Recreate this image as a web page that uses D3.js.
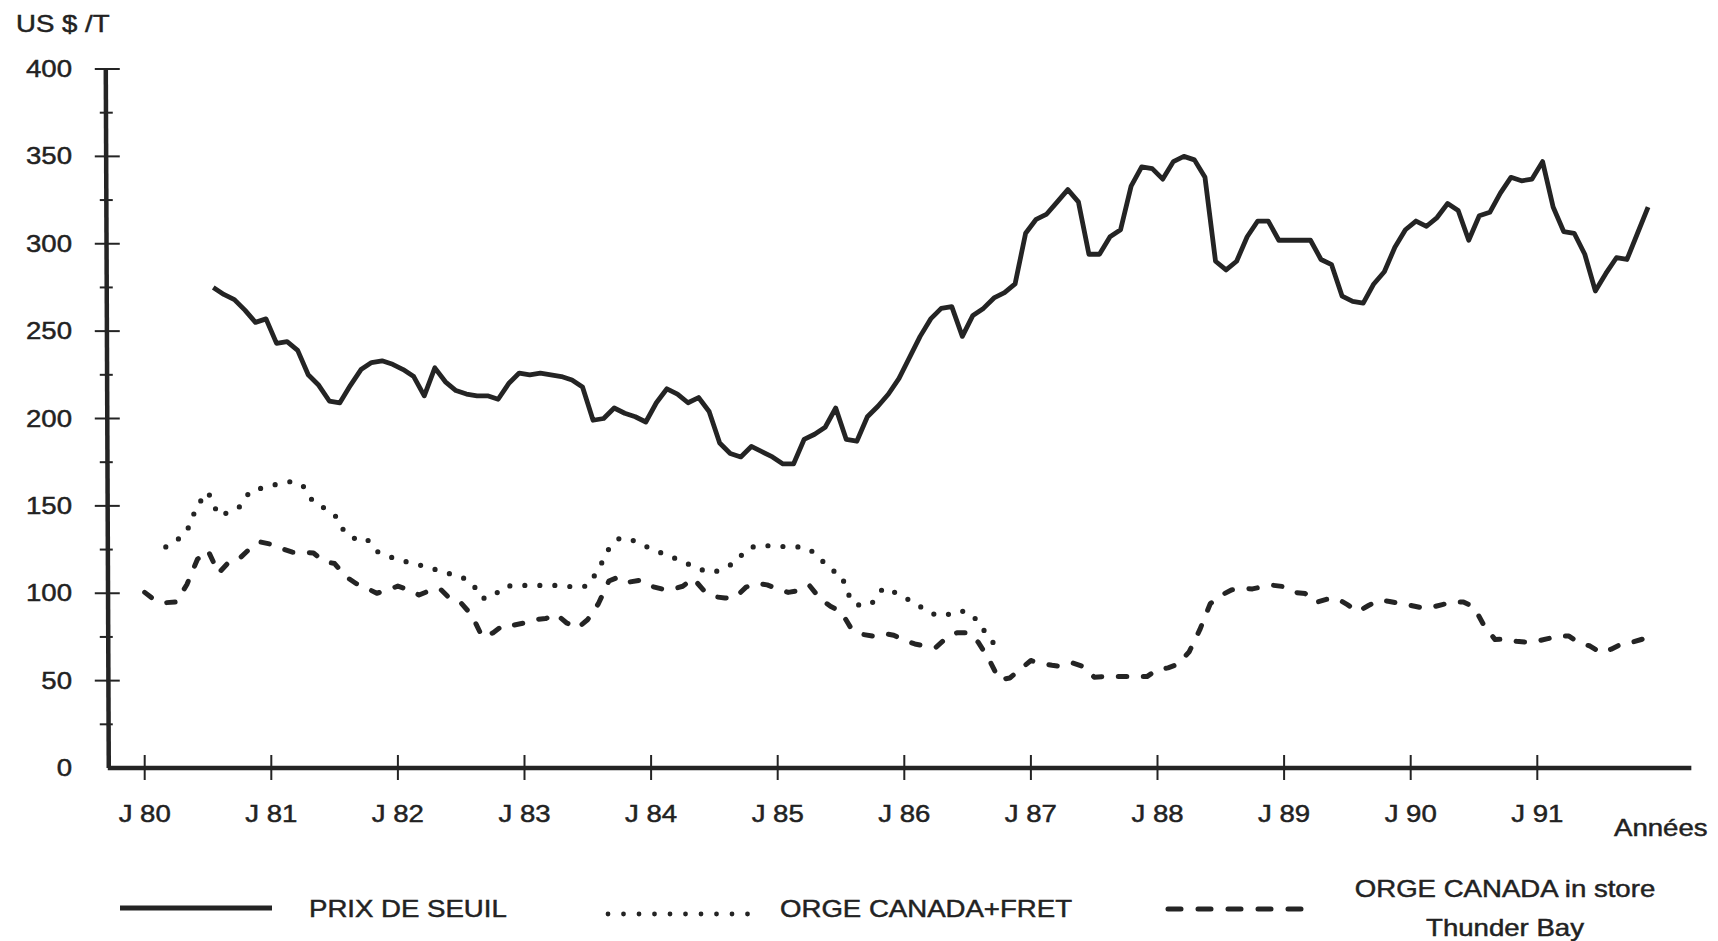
<!DOCTYPE html>
<html>
<head>
<meta charset="utf-8">
<script src="https://cdn.jsdelivr.net/npm/d3@7"></script>
<style>
  html, body { margin: 0; padding: 0; background: #fff; }
  svg { display: block; }
  text { font-family: "Liberation Sans", Arial, Helvetica, sans-serif; fill: #222; stroke: #222; stroke-width: 0.45px; }
</style>
</head>
<body>
<svg id="chart" width="1718" height="941"></svg>
<script>
// ---- Data (US $ per tonne, monthly; month index 0 = January 1980) ----
const yearLabels = ["J 80", "J 81", "J 82", "J 83", "J 84", "J 85", "J 86", "J 87", "J 88", "J 89", "J 90", "J 91"];
const yTickValues = [0, 50, 100, 150, 200, 250, 300, 350, 400];
const yMinorValues = [25, 75, 125, 175, 225, 275, 325, 375];

// Prix de seuil, July 1980 to November 1991 (mid-month)
const prixSeuilStart = 6.5;
const prixSeuil = [
  275, 271, 268, 262, 255, 257,
  243, 244, 239, 225, 219, 210, 209, 219, 228, 232, 233, 231,
  228, 224, 213, 229, 221, 216, 214, 213, 213, 211, 220, 226,
  225, 226, 225, 224, 222, 218, 199, 200, 206, 203, 201, 198,
  209, 217, 214, 209, 212, 204, 186, 180, 178, 184, 181, 178,
  174, 174, 188, 191, 195, 206, 188, 187, 201, 207, 214, 223,
  235, 247, 257, 263, 264, 247, 259, 263, 269, 272, 277, 306,
  314, 317, 324, 331, 324, 294, 294, 304, 308, 333, 344, 343,
  337, 347, 350, 348, 338, 290, 285, 290, 304, 313, 313, 302,
  302, 302, 302, 291, 288, 270, 267, 266, 277, 284, 298, 308,
  313, 310, 315, 323, 319, 302, 316, 318, 329, 338, 336, 337,
  347, 321, 307, 306, 294, 273, 283, 292, 291, 306, 321
];

// Orge Canada + fret, March 1980 to October 1986
const orgeFretStart = 2;
const orgeFret = [
  126.5, 130, 135.5, 150.5, 158, 144.5, 146.3, 149.5, 158.5, 160,
  161.5, 163.2, 164, 161.5, 152, 148.8, 145, 134.5, 131, 131.5, 124, 121.3,
  119.4, 117.7, 116.2, 114.8, 112.6, 111, 109.4, 106, 97, 98, 103.7, 104.5,
  104.5, 104.5, 104.5, 104.5, 104, 103.5, 104.2, 113.5, 125.5, 131.5, 131, 128.2,
  125.5, 123, 120.7, 118, 115.5, 113, 112, 114.8, 117.5, 125, 127.2, 127.2,
  127, 126.5, 126.5, 125.3, 120, 113.5, 110.8, 95, 92.5, 94.8, 103, 100.8,
  97.5, 94.6, 90.3, 87.5, 87.5, 90, 89.4, 84, 74.5, 68
];

// Orge Canada in store Thunder Bay, January 1980 to December 1991
const orgeThunderStart = 0;
const orgeThunder = [
  100.5, 95.8, 94.6, 95, 105, 119.5, 124.5, 111.5, 118, 120, 125.7, 129.3,
  128, 125.5, 123.5, 123.5, 123, 118.2, 117, 109.8, 105.7, 103, 100, 101.8,
  104.1, 102, 99, 101.5, 102.5, 96.5, 94.3, 87.5, 75, 77.3, 81.8, 81.8,
  83, 85, 85.5, 88, 83, 80, 85, 94, 107, 109.5, 106.5, 107.5,
  104, 102.5, 102.2, 104, 108.5, 101.5, 98, 97.3, 97.7, 103.5, 105.7, 104.8,
  102.5, 100.5, 101.5, 104.5, 97, 92.5, 89.5, 79.5, 76.5, 75.5, 77, 76,
  73, 71, 69.8, 69.1, 74.5, 77.4, 77.4, 72, 62.5, 50.5, 51.5, 56.5,
  61.5, 59.8, 58.8, 58, 60, 58, 52, 52.3, 52.3, 52.3, 52.3, 52.3,
  56.5, 57.3, 59.5, 66.5, 79, 94, 98.7, 101.9, 102.8, 102.5, 103.8, 104.5,
  103.8, 100.5, 99.8, 94.7, 96.5, 97, 93.5, 89.5, 93, 96, 95.3, 94.2,
  93, 91.8, 92, 93.5, 95, 95, 92, 81, 73.5, 73.8, 72.5, 72,
  72.6, 74, 75.5, 75.5, 71.5, 69.8, 66, 68, 71, 72, 73.8, 76
];

// ---- Layout ----
const svg = d3.select("#chart");
const ink = "#242424";

const x = d3.scaleLinear().domain([0, 132]).range([144.7, 1537.3]);
const y = d3.scaleLinear().domain([0, 400]).range([768, 69]);
const axisFromMonth = -3.5, axisToMonth = 146.6;
const yAxisX = x(axisFromMonth);

const series = (values, start) => values.map((v, i) => ({ t: start + i, v }));
const line = d3.line().x(d => x(d.t)).y(d => y(d.v));

// Text is set slightly wide, like the typewriter-era lettering of the chart
function label(tx, ty, str, anchor, size) {
  return svg.append("text")
    .attr("transform", `translate(${tx},${ty}) scale(1.2,1)`)
    .attr("text-anchor", anchor)
    .style("font-size", size + "px")
    .text(str);
}

// ---- Axes ----
const axes = svg.append("g").attr("stroke", ink).attr("fill", "none");
axes.append("line")
  .attr("x1", yAxisX - 2).attr("y1", y(400) - 1)
  .attr("x2", yAxisX + 1).attr("y2", y(0))
  .attr("stroke-width", 4.5);
axes.append("line")
  .attr("x1", yAxisX).attr("y1", y(0))
  .attr("x2", x(axisToMonth)).attr("y2", y(0))
  .attr("stroke-width", 4.5);

axes.selectAll(".ymajor").data(yTickValues.filter(v => v > 0)).join("line")
  .attr("x1", yAxisX - 13).attr("x2", yAxisX + 12)
  .attr("y1", d => y(d)).attr("y2", d => y(d))
  .attr("stroke-width", 2);
axes.selectAll(".yminor").data(yMinorValues).join("line")
  .attr("x1", yAxisX - 8).attr("x2", yAxisX + 5)
  .attr("y1", d => y(d)).attr("y2", d => y(d))
  .attr("stroke-width", 2);
axes.selectAll(".xtick").data(yearLabels.map((_, i) => i * 12)).join("line")
  .attr("x1", d => x(d)).attr("x2", d => x(d))
  .attr("y1", y(0) - 13).attr("y2", y(0) + 12)
  .attr("stroke-width", 2);

yTickValues.forEach(v => label(72, y(v) + 8, String(v), "end", 23));
yearLabels.forEach((s, i) => label(x(i * 12), 822, s, "middle", 23));
label(16, 32, "US $ /T", "start", 23);
label(1614, 836, "Années", "start", 23);

// ---- Series ----
const plot = svg.append("g").attr("fill", "none").attr("stroke", ink)
  .attr("stroke-linejoin", "round");

plot.append("path")
  .datum(series(prixSeuil, prixSeuilStart))
  .attr("d", line)
  .attr("stroke-width", 4.8);

plot.append("path")
  .datum(series(orgeFret, orgeFretStart))
  .attr("d", line)
  .attr("stroke-width", 5.2)
  .attr("stroke-linecap", "round")
  .attr("stroke-dasharray", "0 15");

plot.append("path")
  .datum(series(orgeThunder, orgeThunderStart))
  .attr("d", line)
  .attr("stroke-width", 5)
  .attr("stroke-linecap", "round")
  .attr("stroke-dasharray", "8.5 16.5");

// ---- Legend ----
const legend = svg.append("g").attr("fill", "none").attr("stroke", ink);
legend.append("line").attr("x1", 120).attr("x2", 272).attr("y1", 908).attr("y2", 908)
  .attr("stroke-width", 5);
legend.append("line").attr("x1", 608).attr("x2", 748).attr("y1", 914).attr("y2", 914)
  .attr("stroke-width", 4.8).attr("stroke-linecap", "round").attr("stroke-dasharray", "0 15.5");
legend.append("line").attr("x1", 1168).attr("x2", 1302).attr("y1", 909).attr("y2", 909)
  .attr("stroke-width", 5).attr("stroke-linecap", "round").attr("stroke-dasharray", "13 17");

label(309, 917, "PRIX DE SEUIL", "start", 23);
label(780, 917, "ORGE CANADA+FRET", "start", 23);
label(1505, 897, "ORGE CANADA in store", "middle", 23);
label(1505, 936, "Thunder Bay", "middle", 23);
</script>
</body>
</html>
